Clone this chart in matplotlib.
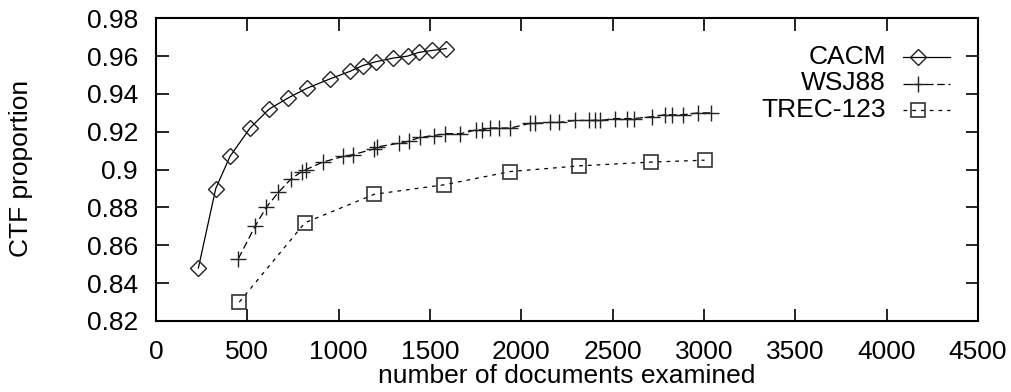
import matplotlib
matplotlib.use("Agg")
import matplotlib.pyplot as plt

plt.rcParams['font.family'] = ['Liberation Sans', 'DejaVu Sans']

series_names = ["CACM", "WSJ88", "TREC-123"]

cacm_x = [232, 327, 405, 515, 619, 725, 826, 953, 1063, 1131, 1202, 1300, 1377, 1439, 1511, 1589]
cacm_y = [0.848, 0.890, 0.907, 0.922, 0.932, 0.938, 0.943, 0.948, 0.952, 0.955, 0.957, 0.959,
          0.960, 0.962, 0.963, 0.964]

wsj_x = [451, 542, 603, 670, 738, 798, 820, 913, 1026, 1081, 1195, 1209, 1333, 1383, 1443,
         1520, 1584, 1666, 1753, 1785, 1830, 1876, 1940, 2049, 2077, 2159, 2205, 2296, 2369,
         2405, 2433, 2512, 2581, 2615, 2716, 2785, 2825, 2883, 2969, 3038]
wsj_y = [0.853, 0.870, 0.880, 0.888, 0.895, 0.899, 0.900, 0.904, 0.907, 0.908, 0.911, 0.912,
         0.914, 0.915, 0.917, 0.918, 0.919, 0.919, 0.921, 0.921, 0.922, 0.922, 0.922, 0.9245,
         0.9245, 0.925, 0.925, 0.926, 0.926, 0.926, 0.926, 0.927, 0.927, 0.927, 0.928, 0.929,
         0.929, 0.929, 0.930, 0.930]

trec_x = [456, 816, 1196, 1578, 1940, 2318, 2712, 3003]
trec_y = [0.830, 0.872, 0.887, 0.892, 0.899, 0.902, 0.904, 0.905]

x_ticks = [0, 500, 1000, 1500, 2000, 2500, 3000, 3500, 4000, 4500]
y_ticks = [0.82, 0.84, 0.86, 0.88, 0.90, 0.92, 0.94, 0.96, 0.98]
y_tick_labels = ["0.82", "0.84", "0.86", "0.88", "0.9", "0.92", "0.94", "0.96", "0.98"]

FS = 19

fig = plt.figure(figsize=(10.12, 3.92), dpi=100)
ax = fig.add_axes([156 / 1012, 1 - 321 / 392, (978 - 156) / 1012, (321 - 18.3) / 392])

styles = [
    dict(ls='-', marker='D', ms=8, mfc='none', mec='#222222', mew=1.0),
    dict(ls=(0, (6, 3)), marker='+', ms=11, mec='#222222', mew=1.0),
    dict(ls=(0, (3, 4)), marker='s', ms=9.5, mfc='none', mec='#333333', mew=1.2),
]
data = [(cacm_x, cacm_y), (wsj_x, wsj_y), (trec_x, trec_y)]

for (xs, ys), st in zip(data, styles):
    ax.plot(xs, ys, color='black', lw=0.9, **st)

ax.set_xlim(0, 4500)
ax.set_ylim(0.82, 0.98)
ax.set_xticks(x_ticks)
ax.set_yticks(y_ticks)
ax.set_yticklabels(y_tick_labels)
ax.tick_params(direction='in', length=9, width=1.2, top=True, right=True,
               labelsize=FS, colors='black')
ax.tick_params(axis='y', pad=13)
ax.tick_params(axis='x', pad=14)
for sp in ax.spines.values():
    sp.set_linewidth(1.5)

ax.set_xlabel("number of documents examined", fontsize=FS)
ax.set_ylabel("CTF proportion", fontsize=FS)
ax.xaxis.set_label_coords(0.5, -0.143)
ax.yaxis.set_label_coords(-0.150, 0.505)

# legend drawn manually (right-aligned text, gnuplot style)
def ax_x(px):
    return (px - 156) / 822.0

def ax_y(py):
    return (321 - py) / 302.7

leg_y = [57, 83.5, 110]
for name, st, py in zip(series_names, styles, leg_y):
    ax.text(ax_x(886), ax_y(py), name, transform=ax.transAxes, ha='right', va='center',
            fontsize=FS)
    ax.plot([ax_x(903), ax_x(950)], [ax_y(py), ax_y(py)], transform=ax.transAxes,
            color='black', lw=0.9, ls=st['ls'], clip_on=False)
    mk = {k: v for k, v in st.items() if k != 'ls'}
    ax.plot([ax_x(918)], [ax_y(py)], transform=ax.transAxes, color='black', ls='none',
            clip_on=False, **mk)

fig.savefig("out.png", dpi=100)
